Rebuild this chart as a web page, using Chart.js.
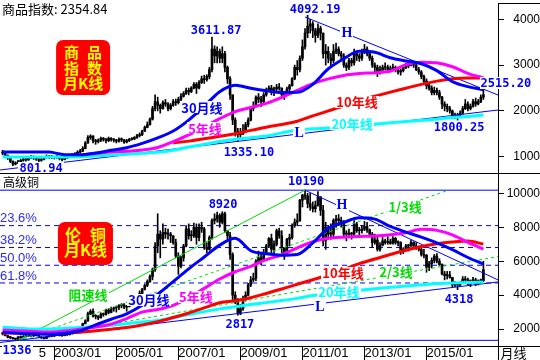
<!DOCTYPE html>
<html>
<head>
<meta charset="utf-8">
<script src="https://cdn.jsdelivr.net/npm/chart.js@4/dist/chart.umd.min.js"></script>
<style>
  html, body { margin: 0; padding: 0; background: #fff; }
  #wrap { position: relative; width: 540px; height: 360px; overflow: hidden; }
  canvas { position: absolute; left: 0; display: block; }
  #top { top: 0; }
  #bot { top: 173px; }
</style>
</head>
<body>
<div id="wrap">
  <canvas id="top" width="540" height="173"></canvas>
  <canvas id="bot" width="540" height="187"></canvas>
</div>
<script>
// month index: 0 = 2001/01, first candle 2001/05, last 2016/11
const firstMonth = 4;
const xMin = 3, xMax = 195.65;

// ---- 商品指数 monthly candles ----
const idxClose = [
  1080, 1030, 970, 900, 840, 860, 890, 920,
  950, 930, 970, 1000, 980, 950, 920, 940, 980, 1010, 990, 1000,
  980, 1000, 960, 940, 970, 990, 1010, 1040, 1060, 1100, 1120, 1180,
  1300, 1420, 1450, 1350, 1330, 1360, 1400, 1380, 1350, 1400, 1380, 1360,
  1340, 1380, 1370, 1320, 1350, 1380, 1390, 1420, 1460, 1480, 1560, 1640,
  1700, 1820, 2050, 2200, 2120, 2050, 2180, 2150, 2050, 2120, 2200, 2180,
  2250, 2320, 2380, 2450, 2420, 2500, 2580, 2500, 2620, 2700, 2680, 2750,
  2900, 3350, 3200, 3300, 3150, 3250, 2950, 2700, 2350, 1800, 1550, 1480,
  1500, 1560, 1700, 1800, 2050, 2100, 2300, 2250, 2200, 2350, 2450, 2500,
  2400, 2480, 2520, 2500, 2350, 2380, 2480, 2550, 2700, 2950, 2900, 3150,
  3400, 3700, 3850, 3900, 3750, 3650, 3800, 3700, 3250, 3300, 3150, 3100,
  3300, 3350, 3250, 3200, 3000, 2950, 3100, 3050, 3250, 3200, 3150, 3300,
  3350, 3250, 3150, 3000, 2950, 2850, 2900, 2950, 2950, 2900, 2920, 2950,
  2900, 2850, 2880, 2950, 2980, 3000, 3050, 3000, 2900, 2850, 2750, 2650,
  2550, 2500, 2400, 2450, 2400, 2300, 2150, 2100, 2050, 2000, 1900, 1880,
  1900, 1950, 2050, 2150, 2050, 2100, 2200, 2150, 2200, 2300, 2354.84
];
const idxHigh = [
  1140, 1090, 1040, 970, 910, 890, 920, 950,
  980, 970, 1000, 1030, 1020, 990, 960, 970, 1010, 1040, 1030, 1030,
  1010, 1030, 1010, 980, 1000, 1020, 1040, 1070, 1090, 1130, 1160, 1220,
  1330, 1460, 1480, 1460, 1380, 1390, 1430, 1420, 1400, 1430, 1420, 1400,
  1380, 1410, 1410, 1380, 1380, 1400, 1420, 1440, 1490, 1520, 1580, 1670,
  1760, 1850, 2100, 2350, 2300, 2150, 2220, 2250, 2180, 2160, 2250, 2260,
  2300, 2380, 2420, 2500, 2500, 2530, 2620, 2620, 2660, 2760, 2780, 2790,
  2950, 3612, 3420, 3400, 3350, 3400, 3300, 2980, 2750, 2350, 1850, 1620,
  1620, 1700, 1750, 1850, 2080, 2200, 2330, 2380, 2320, 2400, 2500, 2550,
  2560, 2520, 2580, 2600, 2500, 2420, 2520, 2580, 2730, 3000, 3100, 3200,
  3550, 3800, 4092, 4000, 3950, 3800, 3900, 3850, 3700, 3450, 3400, 3250,
  3450, 3480, 3400, 3300, 3250, 3050, 3150, 3150, 3350, 3300, 3250, 3350,
  3450, 3400, 3300, 3200, 3050, 3000, 2980, 3000, 3050, 3000, 2980, 3020,
  2980, 2950, 2920, 2980, 3040, 3050, 3100, 3080, 3020, 2950, 2880, 2780,
  2700, 2620, 2550, 2520, 2500, 2450, 2320, 2200, 2150, 2100, 2020, 1950,
  1950, 2000, 2100, 2250, 2200, 2150, 2250, 2280, 2250, 2350, 2515
];
const idxLow = [
  1040, 1000, 940, 870, 802, 820, 850, 880,
  900, 900, 920, 960, 940, 920, 890, 900, 930, 970, 960, 960,
  950, 960, 930, 910, 930, 960, 980, 1000, 1030, 1050, 1080, 1110,
  1170, 1290, 1380, 1300, 1270, 1300, 1330, 1340, 1300, 1330, 1340, 1320,
  1300, 1320, 1330, 1290, 1300, 1330, 1360, 1370, 1400, 1430, 1460, 1550,
  1630, 1690, 1800, 2000, 2000, 1950, 2040, 2100, 2000, 2020, 2100, 2120,
  2150, 2220, 2300, 2360, 2350, 2400, 2480, 2380, 2480, 2600, 2600, 2650,
  2700, 2850, 3050, 3050, 3050, 3050, 2850, 2600, 2250, 1700, 1450, 1335,
  1380, 1480, 1540, 1650, 1780, 2000, 2080, 2180, 2100, 2180, 2320, 2420,
  2350, 2330, 2440, 2450, 2280, 2250, 2350, 2420, 2540, 2680, 2780, 2850,
  3100, 3350, 3600, 3700, 3600, 3500, 3600, 3550, 3150, 3000, 3050, 2950,
  3050, 3250, 3200, 3100, 2950, 2880, 2900, 2980, 3000, 3100, 3080, 3100,
  3250, 3200, 3100, 2950, 2850, 2750, 2800, 2850, 2900, 2850, 2850, 2880,
  2850, 2800, 2780, 2850, 2920, 2940, 2980, 2950, 2880, 2800, 2700, 2600,
  2480, 2450, 2350, 2350, 2350, 2250, 2050, 2000, 1980, 1950, 1850, 1830,
  1800, 1850, 1930, 2030, 2000, 2020, 2080, 2100, 2130, 2180, 2250
];

// ---- 伦铜 monthly candles ----
const cuClose = [
  1720, 1610, 1520, 1490, 1430, 1410, 1540, 1500,
  1560, 1590, 1630, 1600, 1620, 1650, 1540, 1480, 1450, 1560, 1610, 1590,
  1650, 1700, 1610, 1620, 1660, 1690, 1730, 1780, 1800, 2030, 2060, 2320,
  2480, 2900, 3050, 2780, 2750, 2660, 2880, 2860, 3120, 2980, 3180, 3250,
  3290, 3400, 3420, 3300, 3320, 3550, 3750, 3850, 3930, 4100, 4350, 4580,
  4800, 5100, 5500, 6900, 7600, 7300, 7700, 7600, 7600, 7500, 7100, 6300,
  5700, 6200, 6900, 7900, 7500, 7500, 8000, 7400, 8000, 7900, 6800, 6700,
  7400, 8400, 8500, 8700, 8300, 8800, 7800, 7500, 6400, 4000, 3600, 2900,
  3200, 3800, 4000, 4600, 4900, 5000, 6000, 6200, 6100, 6500, 6900, 7350,
  6700, 7000, 7800, 7500, 6800, 6500, 7300, 7400, 8100, 8300, 8400, 9600,
  9900, 9850, 9400, 9200, 9100, 9300, 9800, 9000, 7200, 8000, 7600, 7600,
  8400, 8500, 8400, 8300, 7600, 7600, 7600, 7600, 8200, 7800, 7800, 7900,
  8050, 7850, 7600, 7100, 7250, 6700, 6950, 7200, 7100, 7150, 7050, 7350,
  7100, 7100, 6650, 6700, 6900, 6950, 7100, 6900, 6800, 6700, 6400, 6350,
  5650, 5850, 6050, 6300, 6000, 5800, 5250, 5150, 5200, 5050, 4600, 4700,
  4600, 4750, 4950, 4900, 4650, 4850, 4900, 4650, 4850, 4850, 5500
];
const cuHigh = [
  1800, 1760, 1640, 1560, 1500, 1450, 1560, 1600,
  1620, 1640, 1680, 1660, 1660, 1700, 1690, 1570, 1540, 1590, 1660, 1650,
  1720, 1740, 1720, 1680, 1700, 1740, 1760, 1820, 1840, 2050, 2120, 2350,
  2550, 3000, 3150, 3200, 2850, 2800, 2960, 2950, 3180, 3200, 3300, 3300,
  3350, 3450, 3500, 3500, 3400, 3650, 3780, 3950, 4000, 4250, 4400, 4650,
  4900, 5200, 5600, 7100, 8800, 7800, 8200, 7950, 7900, 7700, 7500, 7300,
  6500, 6300, 7000, 8100, 8200, 7800, 8250, 8200, 8200, 8300, 8000, 7100,
  7500, 8500, 8800, 8900, 8800, 8920, 8900, 7800, 7700, 6500, 4200, 3800,
  3450, 3950, 4200, 4700, 5100, 5300, 6100, 6600, 6500, 6700, 7000, 7400,
  7600, 7200, 7900, 7950, 7800, 6800, 7350, 7600, 8200, 8500, 8800, 9650,
  9950, 10190, 10000, 10000, 9500, 9550, 10100, 9800, 9300, 8300, 8100, 8200,
  8500, 8700, 8750, 8600, 8400, 7800, 7900, 7700, 8400, 8300, 8000, 8100,
  8350, 8300, 7900, 7700, 7600, 7500, 7100, 7400, 7300, 7450, 7300, 7450,
  7400, 7200, 7150, 6800, 7000, 7000, 7250, 7150, 7100, 6900, 6800, 6700,
  6400, 6000, 6200, 6400, 6450, 6150, 5850, 5400, 5400, 5400, 5050, 4800,
  4700, 4800, 5100, 5100, 5000, 4900, 5050, 5000, 4900, 4950, 6000
];
const cuLow = [
  1650, 1590, 1480, 1440, 1400, 1360, 1336, 1450,
  1460, 1540, 1570, 1560, 1560, 1600, 1510, 1450, 1420, 1430, 1530, 1540,
  1560, 1630, 1590, 1560, 1600, 1620, 1650, 1700, 1740, 1780, 1980, 2050,
  2300, 2450, 2850, 2700, 2600, 2550, 2650, 2750, 2820, 2900, 2950, 3050,
  3000, 3150, 3250, 3200, 3050, 3300, 3450, 3650, 3750, 3850, 4050, 4300,
  4500, 4750, 4900, 5400, 6500, 6200, 7000, 7350, 7300, 7100, 7000, 6200,
  5225, 5600, 6000, 6850, 7300, 7200, 7400, 7000, 7200, 7700, 6700, 6500,
  6650, 7300, 8200, 8300, 8000, 8200, 7700, 7200, 6100, 3700, 3500, 2817,
  2850, 3100, 3650, 3950, 4500, 4800, 4850, 5900, 5800, 6000, 6400, 6800,
  6500, 6400, 6900, 7350, 6500, 6100, 6400, 6900, 7300, 8000, 8100, 8350,
  9200, 9650, 9150, 9000, 8900, 8900, 9250, 8700, 6900, 6700, 7300, 7300,
  7400, 8000, 8100, 8000, 7500, 7200, 7400, 7300, 7500, 7700, 7500, 7650,
  7800, 7700, 7500, 6800, 7000, 6600, 6600, 6900, 7000, 7000, 7000, 7000,
  7000, 6900, 6400, 6450, 6600, 6600, 6850, 6800, 6700, 6600, 6300, 6200,
  5350, 5450, 5600, 5900, 5900, 5750, 5200, 4900, 4950, 5000, 4500, 4500,
  4318, 4500, 4700, 4700, 4600, 4500, 4800, 4550, 4600, 4700, 4800
];

// ---- moving averages, read every 6 months ----
const maMonths = [4, 10, 16, 22, 28, 34, 40, 46, 52, 58, 64, 70, 76, 82, 88, 94,
  100, 106, 112, 118, 124, 130, 136, 142, 148, 154, 160, 166, 172, 178, 184, 190];
const idxMa30 = [1100, 1105, 1105, 1100, 1045, 1040, 1080, 1140, 1195, 1290, 1410, 1560, 1800, 2100, 2420, 2560,
  2495, 2440, 2400, 2405, 2580, 2920, 3140, 3300, 3280, 3160, 3090, 3030, 2880, 2640, 2530, 2460];
const idxMa60 = [null, null, null, null, null, 1040, 1070, 1100, 1120, 1145, 1200, 1330, 1475, 1650, 1830, 1985,
  2075, 2165, 2295, 2450, 2595, 2700, 2775, 2815, 2835, 2870, 3010, 3065, 3050, 2965, 2820, 2720];
const idxMa120 = [null, null, null, null, null, null, null, null, null, null, null, 1300, 1340, 1390, 1445, 1500,
  1575, 1645, 1705, 1775, 1890, 2000, 2110, 2230, 2320, 2410, 2495, 2580, 2650, 2700, 2720, 2720];
const idxMa240 = [995, 995, 995, 995, 995, 1000, 1015, 1035, 1055, 1075, 1095, 1140, 1210, 1270, 1330, 1380,
  1415, 1450, 1520, 1585, 1610, 1625, 1650, 1685, 1715, 1740, 1770, 1795, 1820, 1855, 1880, 1910];
const cuMa30 = [1820, 1760, 1720, 1700, 1760, 1900, 2250, 2580, 2900, 3400, 4050, 4800, 5550, 6250, 6950, 7350,
  6620, 6440, 6360, 6400, 7080, 7950, 8290, 8560, 8480, 8050, 7720, 7420, 7080, 6680, 6220, 5830];
const cuMa60 = [1940, 1900, 1860, 1825, 1880, 1990, 2120, 2290, 2620, 3000, 3150, 3400, 3850, 4400, 4950, 5380,
  5700, 6090, 6380, 6790, 7150, 7350, 7420, 7460, 7490, 7560, 7680, 7880, 7820, 7560, 7110, 6720];
const cuMa120 = [1760, 1770, 1780, 1790, 1805, 1820, 1900, 1990, 2090, 2240, 2430, 2680, 2950, 3250, 3550, 3670,
  3850, 4100, 4360, 4640, 4910, 5190, 5510, 5860, 6130, 6400, 6650, 6870, 7030, 7130, 7190, 7010];
const cuMa240 = [2110, 2050, 2000, 2010, 2040, 2090, 2150, 2220, 2320, 2420, 2510, 2680, 2860, 3030, 3190, 3320,
  3450, 3560, 3680, 3810, 3980, 4100, 4200, 4290, 4380, 4460, 4540, 4610, 4680, 4720, 4750, 4770];

// ---- trend lines (month, value) ----
const idxHLine = [[121, 4050], [xMax, 2347]];
const idxLLine = [[xMin, 710], [xMax, 2020]];
const cuHLine = [[121, 10190], [xMax, 4900]];
const cuLLine = [[xMin, 1209], [xMax, 4780]];
const cuSwing = { lowMonth: 10, low: 1336, highMonth: 121, high: 10190 };
const fibRatios = [0, 0.236, 0.382, 0.5, 0.618, 1];
const fibLabels = ['', '23.6%', '38.2%', '50.0%', '61.8%', ''];

// ---- axes ----
const idxTicks = [1000, 2000, 3000, 4000];
const cuTicks = [2000, 4000, 6000, 8000, 10000];
const monthTicks = [18, 24, 48, 72, 96, 120, 144, 168];
const monthTickLabels = ['5', '2003/01', '2005/01', '2007/01', '2009/01', '2011/01', '2013/01', '2015/01'];

const BLUE = '#0000ff', MAG = '#ff00ff', RED = '#ff0000', CYAN = '#00ffff', GREEN = '#00dd00';
const NUM = 'bold 12px "DejaVu Sans Mono", monospace';
const SERIF = 'bold 14px "Liberation Serif", serif';
const CJK = 'bold 13px "Noto Sans CJK SC", sans-serif';

const idxTitle = '商品指数: ' + idxClose[idxClose.length - 1].toFixed(2);
const cuTitle = '高级铜';

const idxNotes = [
  ['3611.87', 86.6, 3766, BLUE, NUM],
  ['4092.19', 124.9, 4225, BLUE, NUM],
  ['1335.10', 99.3, 1103, BLUE, NUM],
  ['801.94', 18.9, 754, BLUE, NUM],
  ['2515.20', 198.7, 2609, BLUE, NUM],
  ['1800.25', 180.6, 1649, BLUE, NUM],
  ['H', 137.2, 3701, BLUE, SERIF],
  ['L', 118.7, 1518, BLUE, SERIF],
  ['30月线', 81.1, 2083, BLUE, CJK],
  ['5年线', 82.3, 1625, MAG, CJK],
  ['10年线', 141.1, 2194, RED, CJK],
  ['20年线', 139.2, 1714, CYAN, CJK]
];
const cuNotes = [
  ['10190', 121.4, 10731, BLUE, NUM],
  ['8920', 89.3, 9375, BLUE, NUM],
  ['2817', 95.8, 2300, BLUE, NUM],
  ['4318', 180.6, 3774, BLUE, NUM],
  ['1336', 9.6, 767, BLUE, NUM],
  ['H', 135.3, 9316, BLUE, SERIF],
  ['L', 126.8, 3302, BLUE, SERIF],
  ['1/3线', 159.7, 9198, GREEN, CJK],
  ['2/3线', 156.2, 5366, GREEN, CJK],
  ['阻速线', 37, 4009, GREEN, CJK],
  ['30月线', 60.6, 3715, BLUE, CJK],
  ['5年线', 78.8, 3892, MAG, CJK],
  ['10年线', 135.7, 5307, RED, CJK],
  ['20年线', 134.1, 4186, CYAN, CJK]
];
const idxBadge = { i0: 24.7, i1: 45.6, v0: 3548, v1: 2347, gap: 11.5, size: 15,
  rows: [[3286, '商', '品'], [2937, '指', '数'], [2609, '月K线']] };
const cuBadge = { i0: 25.4, i1: 46.7, v0: 8314, v1: 5778, gap: 12.5, size: 16,
  rows: [[7547, '伦', '铜'], [6663, '月K线']] };

// ---- helpers ----
const candleSets = (close, high, low) => [
  { type: 'bar', order: 5, grouped: false, barThickness: 1, backgroundColor: '#000',
    data: close.map((c, k) => ({ x: firstMonth + k, y: [low[k], high[k]] })) },
  { type: 'bar', order: 4, grouped: false, barThickness: 2, minBarLength: 1, backgroundColor: '#000',
    data: close.map((c, k) => ({ x: firstMonth + k, y: [k ? close[k - 1] : c, c] })) }
];
const maSet = (vals, color) => ({
  type: 'line', order: 1, data: maMonths.map((m, k) => ({ x: m, y: vals[k] })),
  borderColor: color, borderWidth: 3, pointRadius: 0, cubicInterpolationMode: 'monotone', fill: false
});
const segSet = (pts, color, width, dash, order) => ({
  type: 'line', order: order || 2, data: pts.map(p => ({ x: p[0], y: p[1] })),
  borderColor: color, borderWidth: width, borderDash: dash || [], pointRadius: 0, fill: false
});
const fibLevel = f => cuSwing.high - f * (cuSwing.high - cuSwing.low);
const fanLine = (frac, endMonth) => {
  const target = cuSwing.high - frac * (cuSwing.high - cuSwing.low);
  const slope = (target - cuSwing.low) / (cuSwing.highMonth - cuSwing.lowMonth);
  const end = endMonth || cuSwing.lowMonth + (cuSwing.high - cuSwing.low) / slope;
  return [[cuSwing.lowMonth, cuSwing.low], [end, cuSwing.low + slope * (end - cuSwing.lowMonth)]];
};

function drawNote(ctx, x, y, n) {
  const [text, i, v, color, font] = n;
  ctx.font = font;
  const px = x.getPixelForValue(i), py = y.getPixelForValue(v);
  const w = ctx.measureText(text).width;
  ctx.fillStyle = '#fff';
  ctx.fillRect(Math.round(px - w / 2 - 1), Math.round(py - 6), Math.ceil(w + 2), 12);
  ctx.fillStyle = color;
  ctx.textAlign = 'center';
  ctx.textBaseline = 'middle';
  ctx.fillText(text, px, py + 0.5);
}
function drawBadge(ctx, x, y, b) {
  const l = x.getPixelForValue(b.i0), r = x.getPixelForValue(b.i1);
  const t = y.getPixelForValue(b.v0), bt = y.getPixelForValue(b.v1);
  ctx.fillStyle = '#ff0000';
  ctx.beginPath();
  ctx.roundRect(l, t, r - l, bt - t, 7);
  ctx.fill();
  ctx.fillStyle = '#ffff00';
  ctx.font = 'bold ' + b.size + 'px "Noto Sans CJK SC", sans-serif';
  ctx.textAlign = 'center';
  ctx.textBaseline = 'middle';
  const cx = (l + r) / 2;
  b.rows.forEach(([v, a, c]) => {
    const py = y.getPixelForValue(v);
    if (c) { ctx.fillText(a, cx - b.gap, py); ctx.fillText(c, cx + b.gap, py); }
    else ctx.fillText(a, cx, py);
  });
}

function makeScales(yMin, yMax, yTicks, yPad, withX) {
  const x = { type: 'linear', min: xMin, max: xMax, offset: false, display: withX };
  if (withX) {
    Object.assign(x, {
      grid: { drawOnChartArea: false, offset: false, tickLength: 14, lineWidth: 1,
        color: c => (c.index === 0 ? 'rgba(0,0,0,0)' : '#000') },
      border: { display: true, color: '#000', width: 1 },
      ticks: { autoSkip: false, maxRotation: 0, minRotation: 0, align: 'start', padding: -14, color: '#000',
        font: { family: '"Liberation Sans", Arial, sans-serif', size: 13 },
        callback: (v, k) => monthTickLabels[k] },
      afterBuildTicks: s => { s.ticks = monthTicks.map(v => ({ value: v })); },
      afterFit: s => { s.height = 14; s.paddingLeft = 0; s.paddingRight = 0; }
    });
  }
  return {
    x,
    y: { type: 'linear', position: 'right', min: yMin, max: yMax, beginAtZero: false,
      grid: { drawOnChartArea: false, tickLength: 6, color: '#000' },
      border: { display: true, color: '#000', width: 1 },
      ticks: { crossAlign: 'far', padding: yPad, color: '#000',
        font: { family: '"Liberation Sans", Arial, sans-serif', size: 12 },
        callback: v => String(v) },
      afterBuildTicks: s => { s.ticks = yTicks.map(v => ({ value: v })); },
      afterFit: s => { s.width = 42; s.paddingTop = 0; s.paddingBottom = 0; }
    }
  };
}

const common = {
  responsive: false, animation: false, devicePixelRatio: 1,
  plugins: { legend: { display: false }, tooltip: { enabled: false } }
};

// ---- top: 商品指数 ----
new Chart(document.getElementById('top'), {
  type: 'bar',
  data: {
    datasets: [
      maSet(idxMa30, BLUE), maSet(idxMa60, MAG), maSet(idxMa120, RED), maSet(idxMa240, CYAN),
      segSet(idxHLine, BLUE, 1), segSet(idxLLine, BLUE, 1),
      ...candleSets(idxClose, idxHigh, idxLow)
    ]
  },
  options: Object.assign({}, common, {
    layout: { padding: { top: 3, bottom: 1, left: 0, right: 0 } },
    scales: makeScales(666, 4356, idxTicks, 6, false)
  }),
  plugins: [{
    id: 'topDecor',
    afterDatasetsDraw(chart) {
      const { ctx, scales: { x, y } } = chart;
      ctx.save();
      drawBadge(ctx, x, y, idxBadge);
      idxNotes.forEach(n => drawNote(ctx, x, y, n));
      ctx.restore();
    },
    afterDraw(chart) {
      const { ctx, chartArea: a } = chart;
      ctx.save();
      ctx.fillStyle = '#000';
      ctx.font = '13px "Noto Sans CJK SC", sans-serif';
      ctx.textAlign = 'left';
      ctx.textBaseline = 'middle';
      ctx.fillText(idxTitle, 2, 9);
      ctx.strokeStyle = '#000';
      ctx.lineWidth = 1;
      ctx.beginPath();
      ctx.moveTo(Math.round(a.right), Math.round(a.top) + 0.5);
      ctx.lineTo(chart.width, Math.round(a.top) + 0.5);
      ctx.stroke();
      ctx.restore();
    }
  }]
});

// ---- bottom: 伦铜 ----
new Chart(document.getElementById('bot'), {
  type: 'bar',
  data: {
    datasets: [
      maSet(cuMa30, BLUE), maSet(cuMa60, MAG), maSet(cuMa120, RED), maSet(cuMa240, CYAN),
      segSet(cuHLine, BLUE, 1), segSet(cuLLine, BLUE, 1),
      segSet(fanLine(0, cuSwing.highMonth), GREEN, 1),
      segSet(fanLine(1 / 3), GREEN, 1, [3, 3]),
      segSet(fanLine(2 / 3, xMax), GREEN, 1, [3, 3]),
      ...fibRatios.map(f => segSet([[xMin, fibLevel(f)], [xMax, fibLevel(f)]], BLUE, 1,
        (f === 0 || f === 1) ? [] : [5, 4], 6)),
      ...candleSets(cuClose, cuHigh, cuLow)
    ]
  },
  options: Object.assign({}, common, {
    layout: { padding: { top: 13, bottom: 0, left: 0, right: 0 } },
    scales: makeScales(1002, 10436, cuTicks, 1, true)
  }),
  plugins: [{
    id: 'botDecor',
    afterDatasetsDraw(chart) {
      const { ctx, scales: { x, y } } = chart;
      ctx.save();
      ctx.font = '13px "Liberation Sans", Arial, sans-serif';
      ctx.fillStyle = '#2b2bff';
      ctx.textAlign = 'left';
      ctx.textBaseline = 'middle';
      fibRatios.forEach((f, k) => {
        if (fibLabels[k]) ctx.fillText(fibLabels[k], 0, y.getPixelForValue(fibLevel(f)) - 7);
      });
      drawBadge(ctx, x, y, cuBadge);
      cuNotes.forEach(n => drawNote(ctx, x, y, n));
      ctx.restore();
    },
    afterDraw(chart) {
      const { ctx, chartArea: a } = chart;
      const r = Math.round(a.right) + 0.5, b = Math.round(a.bottom) + 0.5;
      ctx.save();
      ctx.strokeStyle = '#000';
      ctx.lineWidth = 1;
      ctx.beginPath();
      ctx.moveTo(0, 0.5); ctx.lineTo(chart.width, 0.5);
      ctx.moveTo(r, b); ctx.lineTo(chart.width, b);
      ctx.moveTo(r, 0); ctx.lineTo(r, chart.height);
      ctx.stroke();
      ctx.fillStyle = '#000';
      ctx.textAlign = 'left';
      ctx.textBaseline = 'middle';
      ctx.font = '12px "Noto Sans CJK SC", sans-serif';
      ctx.fillText(cuTitle, 3, 9);
      ctx.font = '13px "Noto Sans CJK SC", sans-serif';
      ctx.fillText('月线', r + 2, b + 7);
      ctx.restore();
    }
  }]
});
</script>
</body>
</html>
